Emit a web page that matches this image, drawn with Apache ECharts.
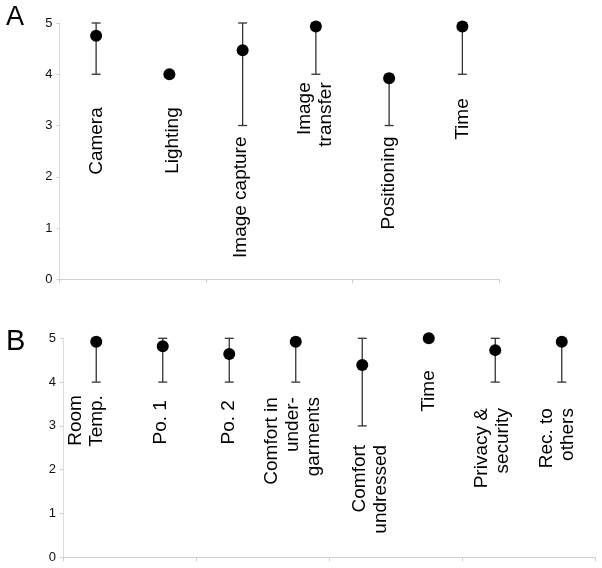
<!DOCTYPE html>
<html>
<head>
<meta charset="utf-8">
<script src="https://cdn.jsdelivr.net/npm/echarts@6/dist/echarts.min.js"></script>
<style>html,body{margin:0;padding:0;background:#fff}#c{width:602px;height:568px}</style>
</head>
<body>
<div id="c"></div>
<script>
// ---- data ----
const catsA = ['Camera', 'Lighting', 'Image capture', 'Image\ntransfer', 'Positioning', 'Time'];
const meanA = [4.75, 4.0, 4.47, 4.93, 3.92, 4.93];
const lowA  = [4, 4, 3, 4, 3, 4];
const highA = [5, 4, 5, 5, 4, 5];

const catsB = ['Room\nTemp.', 'Po. 1', 'Po. 2', 'Comfort in\nunder-\ngarments', 'Comfort\nundressed', 'Time', 'Privacy &\nsecurity', 'Rec. to\nothers'];
const meanB = [4.92, 4.82, 4.64, 4.92, 4.39, 5.0, 4.73, 4.92];
const lowB  = [4, 4, 4, 4, 3, 5, 4, 4];
const highB = [5, 5, 5, 5, 5, 5, 5, 5];

const yTicks = [0, 1, 2, 3, 4, 5];

// ---- label layout (pixels, style only) ----
const labelLayoutA = { gap: [33, 33, 11, 8, 11, 24], dx: [1, 3, -2, -1, 0, 0] };
const labelLayoutB = { gap: [13, 18, 18, 15, 19, 32, 26, 26], dx: [-10, -2, 0, -3, 8, 0, -3, -4] };

const FONT = 'Liberation Sans, Arial, sans-serif';
const chart = echarts.init(document.getElementById('c'), null, { renderer: 'canvas' });

function errSeries(idx, low, high) {
  return {
    type: 'custom', xAxisIndex: idx, yAxisIndex: idx, z: 2, silent: true,
    data: low.map((l, i) => [i, l, high[i]]),
    renderItem: function (params, api) {
      const i = api.value(0), lo = api.value(1), hi = api.value(2);
      if (lo === hi) return null;
      const p1 = api.coord([i, lo]), p2 = api.coord([i, hi]);
      const w = 4.5;
      const st = { stroke: '#333', lineWidth: 1.3 };
      return {
        type: 'group', children: [
          { type: 'line', shape: { x1: p1[0], y1: p1[1], x2: p2[0], y2: p2[1] }, style: st },
          { type: 'line', shape: { x1: p1[0] - w, y1: p1[1], x2: p1[0] + w, y2: p1[1] }, style: st },
          { type: 'line', shape: { x1: p2[0] - w, y1: p2[1], x2: p2[0] + w, y2: p2[1] }, style: st }
        ]
      };
    }
  };
}

function labelSeries(idx, cats, low, layout) {
  return {
    type: 'custom', xAxisIndex: idx, yAxisIndex: idx, z: 3, silent: true,
    data: low.map((l, i) => [i, l]),
    renderItem: function (params, api) {
      const i = api.value(0);
      const p = api.coord([i, api.value(1)]);
      return {
        type: 'text',
        x: p[0] + layout.dx[i],
        y: p[1] + layout.gap[i],
        rotation: Math.PI / 2,
        style: {
          text: cats[i], fontSize: 19, fontFamily: FONT, fill: '#000',
          align: 'right', verticalAlign: 'middle', lineHeight: 21
        }
      };
    }
  };
}

function pointSeries(idx, mean) {
  return {
    type: 'scatter', xAxisIndex: idx, yAxisIndex: idx, z: 4, silent: true,
    symbol: 'circle', symbolSize: 12,
    itemStyle: { color: '#000', opacity: 1 },
    data: mean.map((m, i) => [i, m])
  };
}

function xAx(idx, cats) {
  return {
    type: 'category', gridIndex: idx, data: cats,
    axisLine: { lineStyle: { color: '#cfcfcf', width: 1 } },
    axisTick: { show: true, length: 4, lineStyle: { color: '#cfcfcf' } },
    axisLabel: { show: false },
    splitLine: { show: false }
  };
}
function yAx(idx) {
  return {
    type: 'value', gridIndex: idx, min: 0, max: 5, interval: 1,
    axisLine: { show: true, lineStyle: { color: '#dcdcdc', width: 1 } },
    axisTick: { show: true, length: 3, lineStyle: { color: '#cfcfcf' } },
    axisLabel: {
      fontSize: 13, color: '#111', fontFamily: FONT, margin: 7,
      formatter: v => yTicks.includes(v) ? String(v) : ''
    },
    splitLine: { show: false }
  };
}

chart.setOption({
  animation: false,
  backgroundColor: '#fff',
  grid: [
    { left: 59.5, top: 23, width: 439.5, height: 256.3 },
    { left: 63, top: 338.3, width: 532, height: 219 }
  ],
  xAxis: [xAx(0, catsA), xAx(1, catsB)],
  yAxis: [yAx(0), yAx(1)],
  graphic: [
    { type: 'text', left: 6, top: 4, style: { text: 'A', fontSize: 27, fontFamily: FONT, fill: '#000' } },
    { type: 'text', left: 6, top: 327, style: { text: 'B', fontSize: 29, fontFamily: FONT, fill: '#000' } }
  ],
  series: [
    errSeries(0, lowA, highA), pointSeries(0, meanA), labelSeries(0, catsA, lowA, labelLayoutA),
    errSeries(1, lowB, highB), pointSeries(1, meanB), labelSeries(1, catsB, lowB, labelLayoutB)
  ]
});
</script>
</body>
</html>
